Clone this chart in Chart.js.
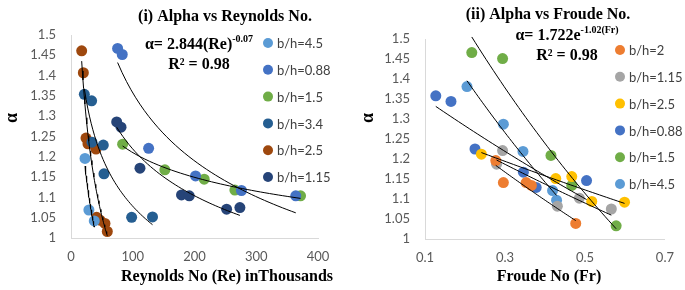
<!DOCTYPE html>
<html>
<head>
<meta charset="utf-8">
<script src="https://cdn.jsdelivr.net/npm/chart.js@4"></script>
<style>
  body { margin: 0; background: #fff; }
  #wrap { position: relative; width: 685px; height: 290px; }
  canvas { position: absolute; top: 0; }
  #reCanvas { left: 0; }
  #frCanvas { left: 345px; }
</style>
</head>
<body>
<div id="wrap">
  <canvas id="reCanvas" width="345" height="290"></canvas>
  <canvas id="frCanvas" width="340" height="290"></canvas>
</div>
<script>
// ---- data: left chart, alpha vs Reynolds number (thousands) ----
const reLabels = ['b/h=4.5', 'b/h=0.88', 'b/h=1.5', 'b/h=3.4', 'b/h=2.5', 'b/h=1.15'];
const reBH45x = [22.7, 29, 37.7];
const reBH45y = [1.196, 1.069, 1.042];
const reBH088x = [75.5, 83, 125.7, 201.7, 276, 364];
const reBH088y = [1.467, 1.452, 1.221, 1.153, 1.117, 1.104];
const reBH15x = [83.6, 152, 215.7, 265.4, 371.7];
const reBH15y = [1.231, 1.168, 1.145, 1.118, 1.104];
const reBH34x = [21.6, 33.4, 34, 52.3, 53.4, 98.2, 132];
const reBH34y = [1.354, 1.338, 1.236, 1.229, 1.158, 1.051, 1.052];
const reBH25x = [17.3, 20, 24.3, 27.5, 40.5, 41.5, 47, 55, 58.8];
const reBH25y = [1.461, 1.407, 1.246, 1.232, 1.219, 1.051, 1.044, 1.036, 1.016];
const reBH115x = [74, 81, 111.7, 179, 191.5, 252, 273.5];
const reBH115y = [1.286, 1.273, 1.172, 1.106, 1.104, 1.071, 1.075];

// ---- data: right chart, alpha vs Froude number ----
const frLabels = ['b/h=2', 'b/h=1.15', 'b/h=2.5', 'b/h=0.88', 'b/h=1.5', 'b/h=4.5'];
const frBH2x = [0.277, 0.296, 0.353, 0.366, 0.477];
const frBH2y = [1.196, 1.141, 1.141, 1.134, 1.039];
const frBH115x = [0.279, 0.294, 0.431, 0.486, 0.566];
const frBH115y = [1.187, 1.221, 1.082, 1.102, 1.075];
const frBH25x = [0.241, 0.427, 0.467, 0.517, 0.599];
const frBH25y = [1.212, 1.151, 1.156, 1.094, 1.092];
const frBH088x = [0.127, 0.165, 0.225, 0.346, 0.378, 0.504];
const frBH088y = [1.358, 1.344, 1.225, 1.167, 1.129, 1.146];
const frBH15x = [0.217, 0.294, 0.415, 0.467, 0.578];
const frBH15y = [1.466, 1.451, 1.209, 1.134, 1.033];
const frBH45x = [0.205, 0.296, 0.345, 0.419, 0.429];
const frBH45y = [1.381, 1.287, 1.219, 1.121, 1.097];

const yTicksMin = 1, yTicksMax = 1.5, yStep = 0.05;
const reTicksMax = 400, reStep = 100;
const frTicksMin = 0.1, frTicksMax = 0.7, frStep = 0.2;

const reColors = ['#5B9BD5', '#4472C4', '#70AD47', '#255E91', '#9E480E', '#264478'];
const frColors = ['#ED7D31', '#A5A5A5', '#FFC000', '#4472C4', '#70AD47', '#5B9BD5'];

const serif = '"Liberation Serif", "Times New Roman", serif';
const sans = 'Lato, "Open Sans", sans-serif';
const tickFont = { family: sans, size: 13 };

function zip(xs, ys) { return xs.map((x, i) => ({ x: x, y: ys[i] })); }

// least squares trendlines, like the spreadsheet ones (power / exponential)
function trend(xs, ys, kind) {
  const n = xs.length;
  const fx = kind === 'power' ? (v => Math.log(v)) : (v => v);
  let sx = 0, sy = 0, sxx = 0, sxy = 0;
  for (let i = 0; i < n; i++) {
    const u = fx(xs[i]), w = Math.log(ys[i]);
    sx += u; sy += w; sxx += u * u; sxy += u * w;
  }
  const b = (n * sxy - sx * sy) / (n * sxx - sx * sx);
  const a = Math.exp((sy - b * sx) / n);
  const lo = Math.min(...xs), hi = Math.max(...xs);
  const pts = [];
  for (let k = 0; k <= 40; k++) {
    const x = lo + (hi - lo) * k / 40;
    pts.push({ x: x, y: kind === 'power' ? a * Math.pow(x, b) : a * Math.exp(b * x) });
  }
  return pts;
}

function buildDatasets(series, labels, colors, kind) {
  const sets = [];
  series.forEach((s, i) => {
    sets.push({
      label: labels[i],
      data: zip(s[0], s[1]),
      backgroundColor: colors[i],
      borderColor: colors[i],
      borderWidth: 0,
      pointRadius: 5.5,
      order: 2
    });
  });
  series.forEach(s => {
    sets.push({
      type: 'line',
      label: '',
      data: trend(s[0], s[1], kind),
      borderColor: '#000',
      borderWidth: 1,
      pointRadius: 0,
      fill: false,
      tension: 0,
      order: 1
    });
  });
  return sets;
}

function drawSupText(ctx, parts, cx, y) {
  let w = 0;
  parts.forEach(p => { ctx.font = p.font; w += ctx.measureText(p.t).width; });
  let x = cx - w / 2;
  ctx.textAlign = 'left';
  ctx.textBaseline = 'middle';
  parts.forEach(p => {
    ctx.font = p.font;
    ctx.fillText(p.t, x, y + (p.dy || 0));
    x += ctx.measureText(p.t).width;
  });
}

function decorPlugin(cfg) {
  return {
    id: 'decor',
    afterDraw(chart) {
      const ctx = chart.ctx;
      ctx.save();
      ctx.fillStyle = '#000';
      ctx.textAlign = 'center';
      ctx.textBaseline = 'middle';
      ctx.font = 'bold 16px ' + serif;
      ctx.fillText(cfg.title, cfg.titleX, cfg.titleY);
      ctx.fillText(cfg.xTitle, cfg.xTitleX, 277);
      ctx.save();
      ctx.translate(cfg.alphaX, 118);
      ctx.rotate(-Math.PI / 2);
      ctx.font = 'bold 18px ' + serif;
      ctx.fillText('α', 0, 0);
      ctx.restore();
      drawSupText(ctx, cfg.eq, cfg.eqX, cfg.eqY);
      ctx.font = 'bold 16px ' + serif;
      ctx.textAlign = 'center';
      ctx.fillText('R² = 0.98', cfg.eqX, cfg.eqY + 20);
      // legend
      ctx.font = '13px ' + sans;
      ctx.textAlign = 'left';
      cfg.labels.forEach((lab, i) => {
        const y = cfg.legY + i * 26.8;
        ctx.fillStyle = cfg.colors[i];
        ctx.beginPath();
        ctx.arc(cfg.legX, y, 5, 0, Math.PI * 2);
        ctx.fill();
        ctx.fillStyle = '#404040';
        ctx.fillText(lab, cfg.legX + 9, y + 1);
      });
      ctx.restore();
    }
  };
}

function makeChart(id, datasets, xScale, pad, xHeight, yWidth, decor) {
  return new Chart(document.getElementById(id), {
    type: 'scatter',
    data: { datasets: datasets },
    options: {
      responsive: false,
      animation: false,
      clip: false,
      layout: { padding: pad },
      plugins: { legend: { display: false }, tooltip: { enabled: false } },
      scales: {
        x: Object.assign({
          type: 'linear',
          grid: { display: false, drawTicks: false },
          border: { display: true, color: '#D9D9D9', width: 1 },
          afterFit: s => { s.height = xHeight; }
        }, xScale),
        y: {
          type: 'linear',
          min: yTicksMin,
          max: yTicksMax,
          grid: { display: false, drawTicks: false },
          border: { display: true, color: '#D9D9D9', width: 1 },
          ticks: {
            stepSize: yStep, color: '#595959', font: tickFont, padding: 15,
            callback: v => String(+v.toFixed(2))
          },
          afterFit: s => { s.width = yWidth; }
        }
      }
    },
    plugins: [decorPlugin(decor)]
  });
}

const reSeries = [[reBH45x, reBH45y], [reBH088x, reBH088y], [reBH15x, reBH15y],
                  [reBH34x, reBH34y], [reBH25x, reBH25y], [reBH115x, reBH115y]];
const frSeries = [[frBH2x, frBH2y], [frBH115x, frBH115y], [frBH25x, frBH25y],
                  [frBH088x, frBH088y], [frBH15x, frBH15y], [frBH45x, frBH45y]];

makeChart('reCanvas', buildDatasets(reSeries, reLabels, reColors, 'power'),
  { min: 0, max: reTicksMax,
    ticks: { stepSize: reStep, color: '#595959', font: tickFont, padding: 11 } },
  { left: 0, right: 27, top: 35, bottom: 0 }, 52, 71,
  {
    title: '(i) Alpha vs Reynolds No.', titleX: 225, titleY: 17,
    xTitle: 'Reynolds No (Re) inThousands', xTitleX: 227, alphaX: 12,
    eq: [{ t: 'α= 2.844(Re)', font: 'bold 16px ' + serif },
         { t: '-0.07', font: 'bold 10px ' + serif, dy: -6 }],
    eqX: 199, eqY: 45,
    labels: reLabels, colors: reColors, legX: 268, legY: 43
  });

makeChart('frCanvas', buildDatasets(frSeries, frLabels, frColors, 'exp'),
  { min: frTicksMin, max: frTicksMax,
    ticks: { stepSize: frStep, color: '#595959', font: tickFont, padding: 11,
             callback: v => String(+v.toFixed(1)) } },
  { left: 0, right: 12, top: 39, bottom: 0 }, 51, 80,
  {
    title: '(ii) Alpha vs Froude No.', titleX: 203, titleY: 15,
    xTitle: 'Froude No (Fr)', xTitleX: 204, alphaX: 23,
    eq: [{ t: 'α= 1.722e', font: 'bold 16px ' + serif },
         { t: '-1.02(Fr)', font: 'bold 10px ' + serif, dy: -6 }],
    eqX: 222, eqY: 36,
    labels: frLabels, colors: frColors, legX: 275, legY: 50
  });
</script>
</body>
</html>
